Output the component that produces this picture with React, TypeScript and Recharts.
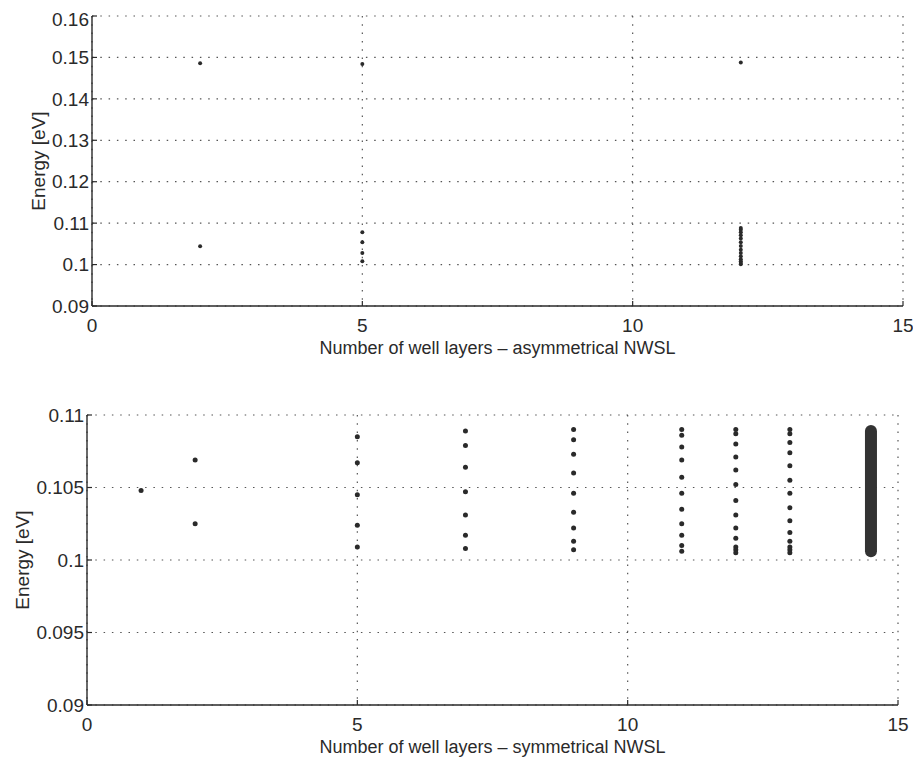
import { ScatterChart, Scatter, XAxis, YAxis, CartesianGrid } from 'recharts';

// upper panel: asymmetrical NWSL
const asymLayers = [2, 5, 12];
const asymEnergies: number[][] = [
  [0.1486, 0.1044],
  [0.1484, 0.1078, 0.1054, 0.1028, 0.1008],
  [
    0.1488, 0.1088, 0.1084, 0.1078, 0.1071, 0.1063, 0.1054, 0.1045, 0.1036, 0.1028,
    0.102, 0.1013, 0.1008, 0.1004, 0.1001,
  ],
];
const asymXTicks = [0, 5, 10, 15];
const asymYTicks = [0.09, 0.1, 0.11, 0.12, 0.13, 0.14, 0.15, 0.16];

// lower panel: symmetrical NWSL
const symLayers = [1, 2, 5, 7, 9, 11, 12, 13];
const symEnergies: number[][] = [
  [0.1048],
  [0.1069, 0.1025],
  [0.1085, 0.1067, 0.1045, 0.1024, 0.1009],
  [0.1089, 0.1079, 0.1064, 0.1047, 0.1031, 0.1017, 0.1008],
  [0.109, 0.1083, 0.1073, 0.106, 0.1046, 0.1033, 0.1022, 0.1013, 0.1007],
  [0.109, 0.1086, 0.1078, 0.1069, 0.1057, 0.1046, 0.1035, 0.1025, 0.1017, 0.101, 0.1006],
  [
    0.109, 0.1087, 0.108, 0.1071, 0.1062, 0.1052, 0.1041, 0.1031, 0.1022, 0.1015, 0.1009,
    0.1007, 0.1005,
  ],
  [
    0.109, 0.1087, 0.1081, 0.1074, 0.1065, 0.1055, 0.1046, 0.1036, 0.1027, 0.1019, 0.1013,
    0.1009, 0.1007, 0.1005,
  ],
];
// the continuous band drawn as a thick bar at the right edge
const bandLayer = 14.5;
const bandEnergies = [0.1006, 0.1089];
const symXTicks = [0, 5, 10, 15];
const symYTicks = [0.09, 0.095, 0.1, 0.105, 0.11];

const INK = '#2a2a2a';
const GRID = '#555';
const FONT = '"Liberation Sans", Arial, sans-serif';

const toPoints = (layers: number[], energies: number[][]) =>
  layers.flatMap((n, i) => energies[i].map((e) => ({ x: n, y: e })));

const asymPoints = toPoints(asymLayers, asymEnergies);
const symPoints = toPoints(symLayers, symEnergies);
const bandPoints = bandEnergies.map((e) => ({ x: bandLayer, y: e }));

const tickStyle = { fontSize: 19, fill: INK, fontFamily: FONT };
const axisLine = { stroke: INK, strokeWidth: 1.4 };
const tickLine = { stroke: INK, strokeWidth: 1.2 };

const NoDot = () => <g />;
const dot = (r: number) => (p: any) => <circle cx={p.cx} cy={p.cy} r={r} fill={INK} />;

const xTitle = (text: string, dy: number) => (props: any) => {
  const { x, y, width, height } = props.viewBox;
  return (
    <text
      x={x + width / 2}
      y={y + height / 2 + dy}
      textAnchor="middle"
      dominantBaseline="central"
      fontSize={18}
      fontFamily={FONT}
      fill={INK}
    >
      {text}
    </text>
  );
};

const yTitle = (cxAbs: number) => (props: any) => {
  const { y, height } = props.viewBox;
  const cy = y + height / 2;
  return (
    <text
      x={cxAbs}
      y={cy}
      transform={`rotate(-90 ${cxAbs} ${cy})`}
      textAnchor="middle"
      dominantBaseline="central"
      fontSize={19}
      fontFamily={FONT}
      fill={INK}
    >
      Energy [eV]
    </text>
  );
};

export default function App() {
  return (
    <div style={{ width: 905, fontFamily: FONT }}>
      <ScatterChart width={905} height={360} margin={{ top: 8, right: 10, bottom: 0, left: 0 }}>
        <CartesianGrid stroke={GRID} strokeWidth={1.2} strokeDasharray="1.5 6.8" />
        <XAxis
          type="number"
          dataKey="x"
          domain={[0, 15]}
          ticks={asymXTicks}
          height={62}
          tick={tickStyle}
          tickSize={-5}
          tickMargin={18}
          axisLine={axisLine}
          tickLine={tickLine}
          label={xTitle('Number of well layers – asymmetrical NWSL', 11)}
        />
        <YAxis
          type="number"
          dataKey="y"
          domain={[0.09, 0.16]}
          ticks={asymYTicks}
          width={84}
          tick={tickStyle}
          tickSize={-5}
          tickMargin={8}
          axisLine={axisLine}
          tickLine={tickLine}
          tickFormatter={(v: number) => String(+v.toFixed(2))}
          label={yTitle(30)}
        />
        <Scatter data={asymPoints} fill={INK} shape={dot(2)} isAnimationActive={false} />
      </ScatterChart>
      <ScatterChart width={905} height={394} margin={{ top: 47, right: 15, bottom: 0, left: 0 }}>
        <CartesianGrid stroke={GRID} strokeWidth={1.2} strokeDasharray="1.5 6.8" />
        <XAxis
          type="number"
          dataKey="x"
          domain={[0, 15]}
          ticks={symXTicks}
          height={57}
          tick={tickStyle}
          tickSize={-5}
          tickMargin={18}
          axisLine={axisLine}
          tickLine={tickLine}
          label={xTitle('Number of well layers – symmetrical NWSL', 13)}
        />
        <YAxis
          type="number"
          dataKey="y"
          domain={[0.09, 0.11]}
          ticks={symYTicks}
          width={79}
          tick={tickStyle}
          tickSize={-5}
          tickMargin={8}
          axisLine={axisLine}
          tickLine={tickLine}
          tickFormatter={(v: number) => String(+v.toFixed(3))}
          label={yTitle(14)}
        />
        <Scatter data={symPoints} fill={INK} shape={dot(2.5)} isAnimationActive={false} />
        <Scatter
          data={bandPoints}
          fill={INK}
          shape={NoDot}
          line={{ stroke: '#333', strokeWidth: 12, strokeLinecap: 'round' }}
          isAnimationActive={false}
        />
      </ScatterChart>
    </div>
  );
}
